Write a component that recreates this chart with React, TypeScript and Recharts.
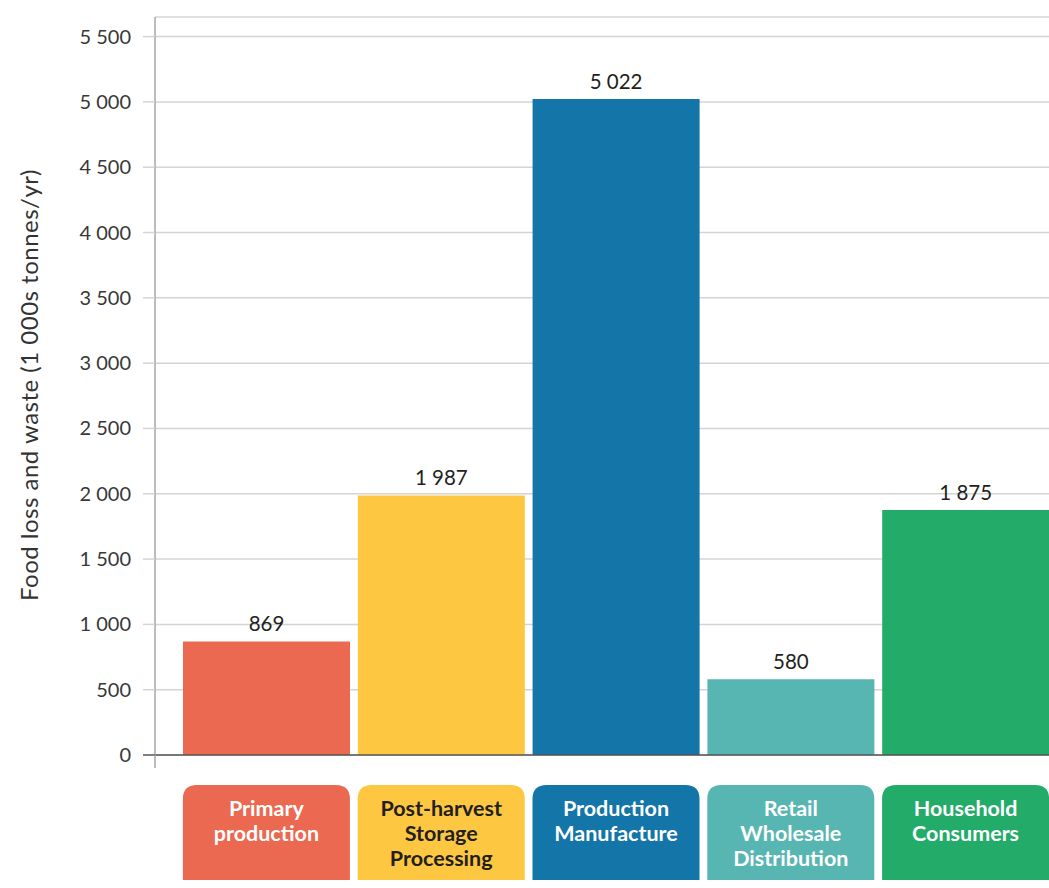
import React from 'react';
import { BarChart, Bar, Cell, XAxis, YAxis, CartesianGrid, LabelList, Label } from 'recharts';

const stages = ['Primary production', 'Post-harvest', 'Production', 'Retail', 'Household'];
const losses = [869, 1987, 5022, 580, 1875];
const stageLines = [
  ['Primary', 'production'],
  ['Post-harvest', 'Storage', 'Processing'],
  ['Production', 'Manufacture'],
  ['Retail', 'Wholesale', 'Distribution'],
  ['Household', 'Consumers'],
];
const stageColors = ['#EB6851', '#FDC741', '#1375A8', '#58B6B2', '#23AB69'];
const stageTextColors = ['#ffffff', '#231f20', '#ffffff', '#ffffff', '#ffffff'];
const yTicks = [0, 500, 1000, 1500, 2000, 2500, 3000, 3500, 4000, 4500, 5000, 5500];

const data = stages.map((name, i) => ({ name, value: losses[i] }));

const FONT = 'Lato, "Open Sans", sans-serif';
const fmt = (v: number) => String(v).replace(/\B(?=(\d{3})+(?!\d))/g, ' ');

const YTick = (props: any) => {
  const { x, y, payload } = props;
  const zero = payload.value === 0;
  return (
    <g>
      <line x1={x - 12} x2={x} y1={y} y2={y} stroke={zero ? '#555' : '#d4d4d4'} strokeWidth={1.5} />
      {/* the vertical axis runs a little past the baseline */}
      {zero && <line x1={x} x2={x} y1={y} y2={y + 13} stroke="#a6a6a6" strokeWidth={1.5} />}
      <text x={x - 24} y={y} dy="0.35em" textAnchor="end" fontSize={20} fill="#383838" fontFamily={FONT}>
        {fmt(payload.value)}
      </text>
    </g>
  );
};

const XTick = (props: any) => {
  const { x, y, index } = props;
  const w = 167;
  const h = 95;
  const r = 14;
  const left = x - w / 2;
  const d = `M${left},${y + h} L${left},${y + r} Q${left},${y} ${left + r},${y} L${left + w - r},${y} Q${left + w},${y} ${left + w},${y + r} L${left + w},${y + h} Z`;
  return (
    <g>
      <path d={d} fill={stageColors[index]} />
      {stageLines[index].map((line, j) => (
        <text
          key={j}
          x={x}
          y={y + 23 + j * 25}
          dy="0.35em"
          textAnchor="middle"
          fontSize={21.5}
          fontWeight={700}
          fill={stageTextColors[index]}
          fontFamily={FONT}
        >
          {line}
        </text>
      ))}
    </g>
  );
};

export default function App() {
  return (
    <div style={{ width: 1049, height: 888, overflow: 'hidden' }}>
      <style>{'html,body{margin:0;padding:0;overflow:hidden}'}</style>
      <BarChart width={1053} height={888} data={data} margin={{ top: 17, right: 0, left: 0, bottom: 0 }}>
        <CartesianGrid vertical={false} stroke="#d4d4d4" strokeWidth={1.5} />
        <XAxis
          dataKey="name"
          axisLine={{ stroke: '#555', strokeWidth: 1.5 }}
          tickLine={false}
          tickSize={0}
          tickMargin={30}
          height={133}
          padding={{ left: 24, right: 0 }}
          interval={0}
          tick={<XTick />}
        />
        <YAxis
          width={155}
          domain={[0, 5650]}
          ticks={yTicks}
          allowDataOverflow
          axisLine={{ stroke: '#a6a6a6', strokeWidth: 1.5 }}
          tickLine={false}
          tickSize={0}
          tickMargin={0}
          tick={<YTick />}
        >
          <Label
            content={() => (
              <text
                x={28}
                y={385}
                transform="rotate(-90, 28, 385)"
                textAnchor="middle"
                dominantBaseline="central"
                fontSize={24}
                letterSpacing={0.5}
                fill="#333"
                fontFamily={FONT}
              >
                Food loss and waste (1 000s tonnes/yr)
              </text>
            )}
          />
        </YAxis>
        <Bar dataKey="value" barSize={167} isAnimationActive={false}>
          {data.map((d, i) => (
            <Cell key={d.name} fill={stageColors[i]} />
          ))}
          <LabelList
            dataKey="value"
            position="top"
            offset={10}
            formatter={(v: any) => fmt(Number(v))}
            fontSize={20.5}
            fill="#231f20"
            fontFamily={FONT}
          />
        </Bar>
      </BarChart>
    </div>
  );
}
